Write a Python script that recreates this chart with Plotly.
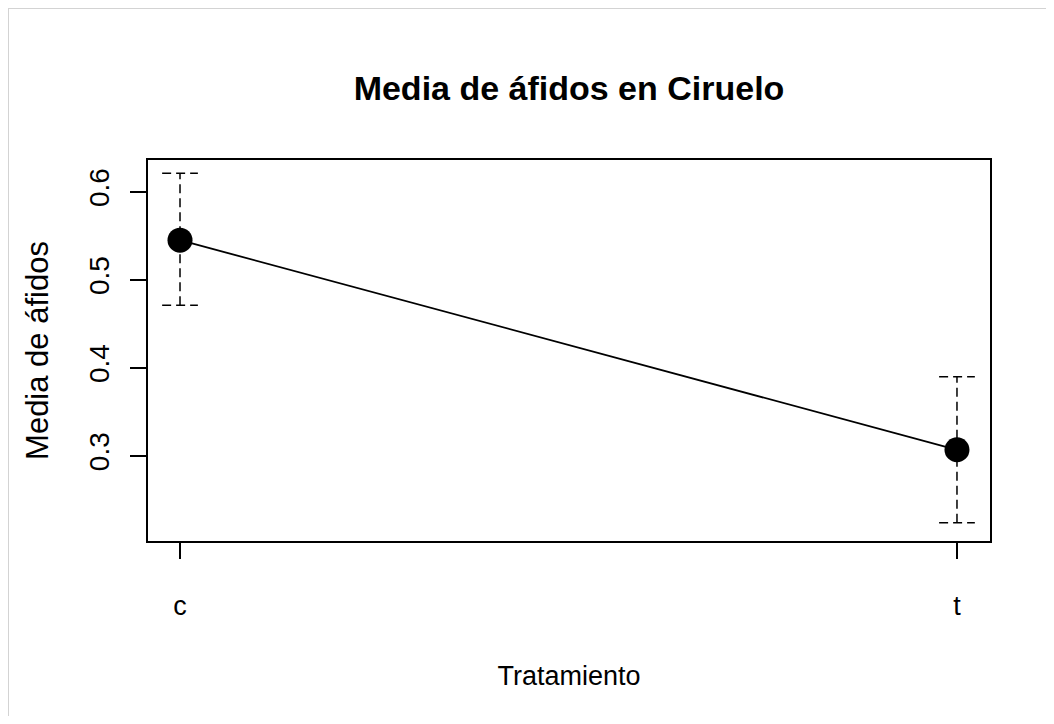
import plotly.graph_objects as go

# group means with their upper / lower error limits
categories = ["c", "t"]
means = [0.545, 0.307]
upper = [0.621, 0.390]
lower = [0.471, 0.224]

y_ticks = [0.3, 0.4, 0.5, 0.6]

# the page body adds an 8px margin around the figure
OFF = 8
W, H = 1054 - 2 * OFF, 724 - 2 * OFF
L, R, T, B = 148 - OFF, 990 - OFF, 160 - OFF, 541 - OFF
FONT = "Liberation Sans, Arial, sans-serif"

xs = list(range(len(categories)))
cap = 0.023

fig = go.Figure()

# dashed error bars (vertical part + caps)
for x, lo, hi in zip(xs, lower, upper):
    dash = dict(color="black", width=1.5, dash="9px,5px")
    fig.add_trace(go.Scatter(x=[x, x], y=[lo, hi], mode="lines",
                             line=dash, showlegend=False, hoverinfo="skip"))
    for yv in (lo, hi):
        fig.add_trace(go.Scatter(x=[x - cap, x + cap], y=[yv, yv], mode="lines",
                                 line=dash, showlegend=False, hoverinfo="skip"))

fig.add_trace(go.Scatter(x=xs, y=means, mode="lines+markers",
                         line=dict(color="black", width=1.8),
                         marker=dict(color="black", size=25),
                         showlegend=False))

pw, ph = R - L, B - T


def px(x):
    return (x - L) / pw


def py(y):
    return (B - y) / ph


# light grey frame on the top and left edges
frame = dict(color="#d3d3d3", width=2)
fig.add_shape(type="line", xref="paper", yref="paper",
              x0=px(0), x1=px(W), y0=py(0), y1=py(0), line=frame)
fig.add_shape(type="line", xref="paper", yref="paper",
              x0=px(0), x1=px(0), y0=py(0), y1=py(H), line=frame)

fig.update_layout(
    width=W, height=H,
    margin=dict(l=L, r=W - R, t=T, b=H - B),
    paper_bgcolor="white", plot_bgcolor="white",
    font=dict(family=FONT, color="black", size=26),
    title=dict(text="<b>Media de áfidos en Ciruelo</b>", x=(L + R) / 2 / W,
               xanchor="center", y=1 - (88 - OFF) / H, yanchor="middle",
               font=dict(size=34)),
    xaxis=dict(range=[-0.0412, 1.0425], tickvals=xs, ticktext=categories,
               showgrid=False, zeroline=False, showline=True, mirror=True,
               linecolor="black", linewidth=2, ticks="outside", ticklen=16,
               tickwidth=1.5, tickcolor="black", ticklabelstandoff=24,
               tickfont=dict(size=27),
               title=dict(text="Tratamiento", standoff=46,
                          font=dict(size=27))),
    yaxis=dict(range=[0.2034, 0.636], tickvals=y_ticks,
               ticktext=[f"{v:.1f}" for v in y_ticks], tickangle=-90,
               showgrid=False, zeroline=False, showline=True, mirror=True,
               linecolor="black", linewidth=2, ticks="outside", ticklen=16,
               tickwidth=1.5, tickcolor="black", ticklabelstandoff=10,
               tickfont=dict(size=28),
               title=dict(text="Media de áfidos", standoff=26,
                          font=dict(size=31))),
)

fig.write_html("out.html")
